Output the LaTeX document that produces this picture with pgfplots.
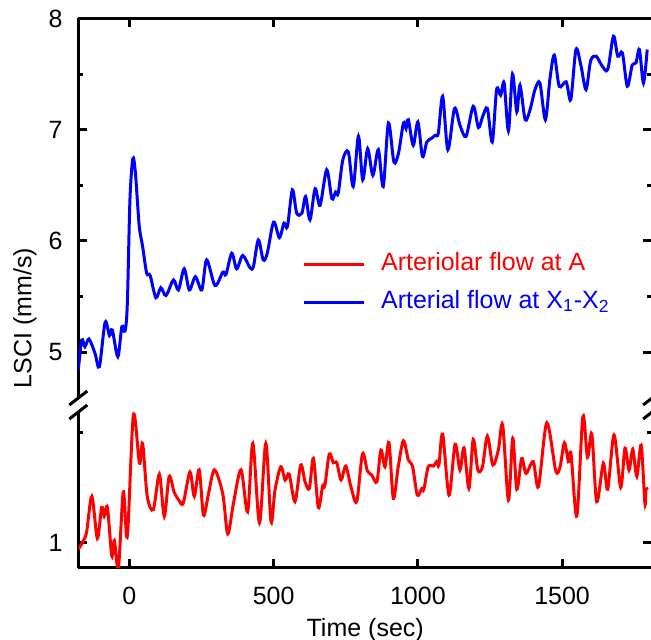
\documentclass[border=0pt]{standalone}
\usepackage{fontspec}
\setmainfont{Liberation Sans}
\usepackage{pgfplots}
\pgfplotsset{compat=1.18}
\begin{document}
\fontsize{12.5}{15}\selectfont
\begin{tikzpicture}
\useasboundingbox (0,0) rectangle (325.5pt,319.5pt);
\pgfplotsset{
  myaxis/.style={
    scale only axis, width=286.9pt, xmin=-177, xmax=1812,
    xtick={0,500,1000,1500},
    tick align=inside,
    axis line style={line width=1.6pt,-},
    tick style={line width=1.5pt,black},
    major tick length=4.5pt, minor tick length=2.5pt,
    /pgf/number format/assume math mode=true,
    /pgf/number format/1000 sep={},
    tick label style={font=\fontsize{12.5}{15}\selectfont},
    yticklabel style={xshift=-3.5pt},
    xticklabel style={yshift=-5.5pt},
    label style={font=\fontsize{12.5}{15}\selectfont},
  }
}
% top panel (blue)
\begin{axis}[myaxis, at={(39.15pt,120.5pt)}, anchor=south west, height=189.8pt,
  ymin=4.589, ymax=8, ytick={5,6,7,8}, minor ytick={5.5,6.5,7.5},
  axis x line*=top, axis y line*=box, xticklabels={},
  legend cell align=left,
  legend image code/.code={\draw[#1] (0pt,0pt) -- (30pt,0pt);},
  legend style={at={(0.3893,0.3846)}, anchor=north west, draw=none, fill=none,
    inner sep=0pt, column sep=8pt, row sep=6.85pt,
    nodes={inner sep=0pt, text height=9pt, text depth=3pt},
    font=\fontsize{12.5}{15}\selectfont}]
\addlegendimage{red, line width=1.5pt}
\addlegendentry{\textcolor{red}{Arteriolar flow at A}}
\addplot[blue, line width=1.5pt, smooth, tension=0.5] coordinates {
(-177,4.84) (-165,5.11) (-154,5.05) (-140,5.12) (-119,4.99) (-104,4.87)
(-84,5.27) (-69,5.15) (-59,5.20) (-40,4.96) (-26,5.23) (-15,5.19) (-7,5.44)
(2,6.37) (12,6.74) (21,6.61) (34,6.14) (46,5.95) (60,5.71) (72,5.69)
(92,5.49) (109,5.58) (127,5.51) (153,5.65) (170,5.56) (190,5.75) (208,5.56)
(229,5.68) (251,5.56) (268,5.83) (297,5.60) (324,5.72) (335,5.70) (355,5.89)
(372,5.75) (393,5.87) (418,5.76) (430,5.77) (447,6.01) (464,5.83) (478,5.89)
(500,6.17) (520,6.03) (536,6.16) (548,6.13) (565,6.46) (580,6.25) (598,6.25)
(611,6.40) (626,6.19) (644,6.47) (661,6.32) (684,6.64) (702,6.38) (715,6.44)
(724,6.43) (740,6.73) (759,6.80) (776,6.49) (794,6.94) (809,6.55) (826,6.83)
(844,6.59) (863,6.82) (880,6.49) (898,7.06) (917,6.71) (933,6.79) (950,7.06)
(959,7.01) (967,7.09) (984,6.86) (1000,7.07) (1016,6.76) (1031,6.89) (1046,6.92)
(1060,6.95) (1071,6.97) (1086,7.30) (1104,6.82) (1127,7.19) (1146,7.04) (1167,6.94)
(1192,7.21) (1210,7.02) (1225,7.12) (1241,7.19) (1258,6.89) (1273,7.36) (1287,7.31)
(1299,7.42) (1314,6.99) (1328,7.50) (1343,7.16) (1354,7.40) (1372,7.09) (1389,7.18)
(1406,7.36) (1423,7.42) (1442,7.09) (1458,7.46) (1473,7.67) (1490,7.39) (1514,7.43)
(1530,7.27) (1548,7.72) (1565,7.58) (1583,7.36) (1599,7.62) (1618,7.66) (1637,7.58)
(1658,7.54) (1678,7.84) (1693,7.66) (1709,7.69) (1726,7.39) (1743,7.58) (1756,7.60)
(1768,7.72) (1782,7.42) (1795,7.72)
};
\addlegendentry{\textcolor{blue}{Arterial flow at X\textsubscript{1}-X\textsubscript{2}}}
\end{axis}
% bottom panel (red)
\begin{axis}[myaxis, at={(39.15pt,35.65pt)}, anchor=south west, height=77.85pt,
  ymin=0.8868, ymax=1.592, ytick={1}, minor ytick={1.5},
  axis x line*=bottom, axis y line*=box,
  xlabel={Time (sec)}, xlabel style={yshift=2pt}]
\addplot[red, line width=1.5pt, smooth, tension=0.5] coordinates {
(-177,0.97) (-159,1.01) (-148,1.05) (-130,1.21) (-111,1.02) (-96,1.16) (-87,1.12)
(-76,1.16) (-61,0.94) (-52,1.01) (-38,0.885) (-21,1.23) (-7,1.03) (14,1.578)
(35,1.36) (46,1.45) (62,1.21) (83,1.15) (104,1.31) (121,1.12) (138,1.30)
(155,1.23) (173,1.19) (187,1.18) (210,1.32) (225,1.21) (242,1.33) (257,1.125)
(274,1.22) (295,1.33) (324,1.22) (341,1.04) (361,1.18) (387,1.33) (410,1.14)
(428,1.45) (451,1.09) (473,1.45) (491,1.095) (505,1.24) (525,1.344) (540,1.284)
(554,1.311) (574,1.186) (594,1.352) (609,1.276) (624,1.246) (638,1.382) (655,1.16)
(670,1.257) (678,1.261) (693,1.402) (707,1.362) (719,1.362) (734,1.284) (750,1.347)
(768,1.254) (788,1.186) (808,1.402) (825,1.326) (840,1.307) (858,1.276) (872,1.42)
(886,1.344) (900,1.453) (915,1.201) (932,1.344) (950,1.462) (967,1.375) (982,1.344)
(998,1.216) (1014,1.246) (1021,1.242) (1036,1.344) (1054,1.347) (1065,1.367) (1073,1.352)
(1086,1.492) (1108,1.216) (1129,1.446) (1146,1.329) (1160,1.43) (1177,1.246) (1192,1.468)
(1208,1.329) (1224,1.344) (1241,1.483) (1260,1.352) (1279,1.42) (1294,1.533) (1314,1.193)
(1329,1.473) (1343,1.242) (1360,1.382) (1375,1.314) (1400,1.367) (1418,1.254) (1447,1.543)
(1478,1.326) (1493,1.344) (1508,1.453) (1522,1.367) (1531,1.402) (1551,1.121) (1572,1.571)
(1588,1.387) (1603,1.492) (1620,1.186) (1643,1.36) (1658,1.242) (1680,1.488) (1703,1.251)
(1718,1.428) (1732,1.329) (1745,1.423) (1759,1.30) (1774,1.442) (1787,1.178) (1791,1.242)
(1796,1.24)
};
\end{axis}
% axis break marks
\foreach \xx in {39.15pt,326.05pt}{
  \foreach \yy in {120.5pt,113.5pt}{
    \draw[line width=1.5pt] ([xshift=-4.5pt,yshift=-3.5pt]\xx,\yy) -- ([xshift=4.5pt,yshift=3.5pt]\xx,\yy);
  }
}
\node[rotate=90, font=\fontsize{12.5}{15}\selectfont] at (12.5pt,160.5pt) {LSCI (mm/s)};
\end{tikzpicture}
\end{document}
